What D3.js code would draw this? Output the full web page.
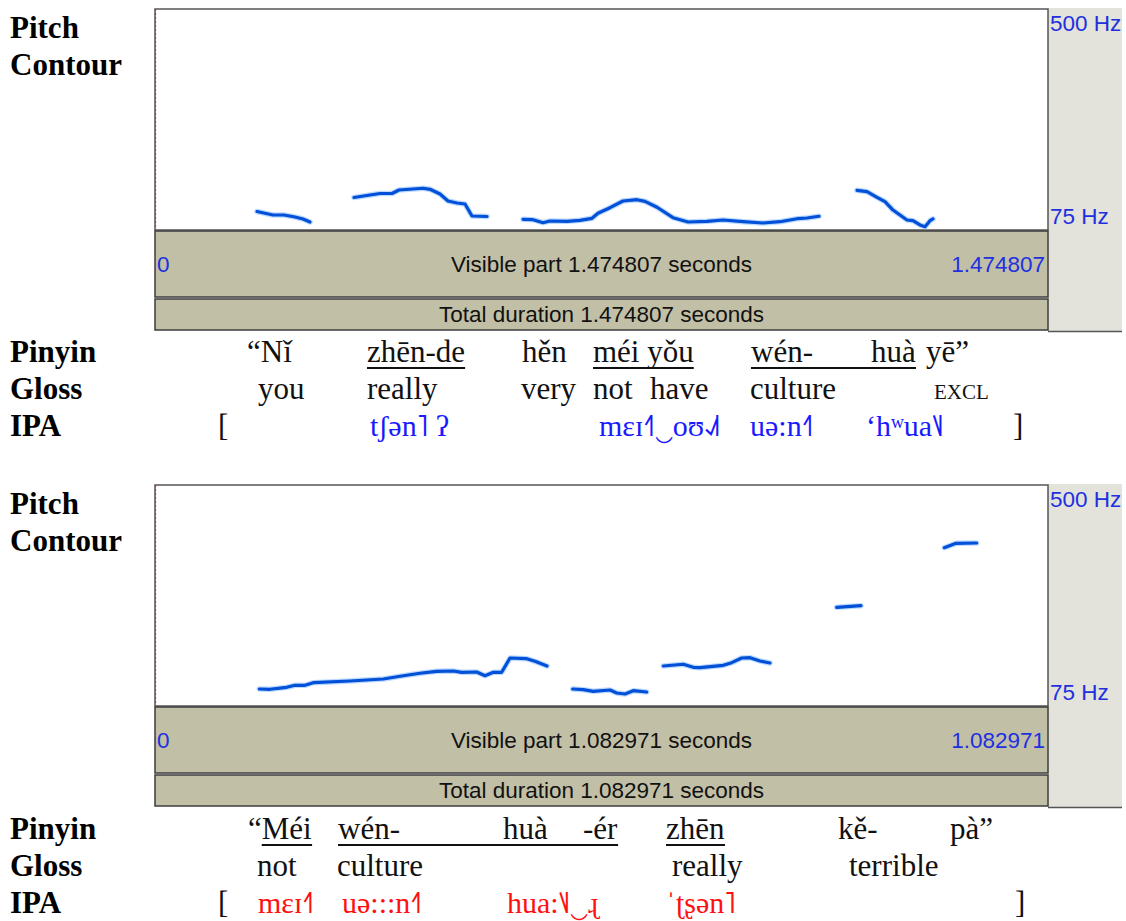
<!DOCTYPE html>
<html><head><meta charset="utf-8">
<script src="https://cdn.jsdelivr.net/npm/d3@7"></script>
<style>
html,body{margin:0;padding:0;background:#fff;}
svg{display:block;}
</style></head>
<body>
<svg id="c" width="1126" height="921"></svg>
<script>
// ---------- DATA ----------
const durations = [1.474807, 1.082971];
const hzRange = [75, 500];
const hzTicks = [75, 500];

// pitch contour segments, [time (s), F0 (Hz)]
const top1 = [[0.1685,110.7],[0.1949,104.0],[0.2130,104.0],[0.2312,100.1],[0.2444,96.3],[0.2560,90.5]];
const top2 = [[0.3286,137.8],[0.3551,142.6],[0.3716,145.5],[0.3914,145.5],[0.4030,152.3],[0.4261,154.2],[0.4426,155.6],[0.4542,153.6],[0.4707,144.5],[0.4839,131.0],[0.4988,127.2],[0.5120,125.2],[0.5235,102.0],[0.5483,101.1]];
const top3 = [[0.6078,95.7],[0.6243,94.9],[0.6408,89.1],[0.6523,92.4],[0.6804,91.8],[0.7019,93.7],[0.7217,97.6],[0.7316,107.3],[0.7514,118.1],[0.7729,131.0],[0.7960,133.5],[0.8092,130.4],[0.8291,118.9],[0.8555,98.8],[0.8803,90.5],[0.9116,91.8],[0.9381,94.3],[0.9711,91.0],[1.0041,88.5],[1.0322,91.0],[1.0603,96.8],[1.0768,98.2],[1.0966,101.5]];
const top4 = [[1.1594,151.7],[1.1759,149.0],[1.1924,138.2],[1.2056,129.7],[1.2188,113.6],[1.2419,94.3],[1.2518,93.0],[1.2634,84.7],[1.2717,81.4],[1.2799,93.0],[1.2849,96.3]];

const bot1 = [[0.1265,107.8],[0.1395,107.3],[0.1597,111.1],[0.1698,115.0],[0.1819,115.0],[0.1920,120.0],[0.2365,123.3],[0.2769,127.2],[0.3011,133.5],[0.3214,138.2],[0.3416,142.0],[0.3618,142.6],[0.3719,140.1],[0.3901,140.7],[0.4002,133.5],[0.4103,140.1],[0.4204,140.1],[0.4305,167.7],[0.4508,166.4],[0.4608,161.3],[0.4754,152.3]];
const bot2 = [[0.5065,107.8],[0.5194,106.5],[0.5315,103.4],[0.5518,105.9],[0.5599,100.1],[0.5700,98.2],[0.5800,104.6],[0.5963,102.0]];
const bot3 = [[0.6164,152.3],[0.6407,155.6],[0.6528,149.8],[0.6609,149.0],[0.6892,153.6],[0.6994,158.7],[0.7115,167.7],[0.7216,168.4],[0.7337,161.9],[0.7458,158.1]];
const bot4 = [[0.8267,265.7],[0.8562,268.8]];
const bot5 = [[0.9572,380.8],[0.9714,389.3],[0.9965,389.9]];

const topPinyin = ["“Nǐ","zhēn-de","hěn","méi yǒu","wén-","huà","yē”"];
const topGloss  = ["you","really","very","not","have","culture","EXCL"];
const topIPA    = ["[","tʃən˥ ʔ","mɛɪ˧˥‿oʊ˨˩˦","uə:n˧˥","ʻhʷua˥˩","]"];
const botPinyin = ["“Méi","wén-","huà","-ér","zhēn","kě-","pà”"];
const botGloss  = ["not","culture","really","terrible"];
const botIPA    = ["[","mɛɪ˧˥","uə:::n˧˥","hua:˥˩‿ɻ","ˈʈʂən˥","]"];
const rowLabels = ["Pinyin","Gloss","IPA"];

// ---------- LAYOUT ----------
const svg = d3.select("#c");
const PX0 = 155, PX1 = 1048;
const praatFont = "'Liberation Sans', Arial, sans-serif";
const serif = "'Liberation Serif', 'Times New Roman', 'DejaVu Serif', serif";
const blue = "#2030e0";

const panels = [
  {off:0, dur:durations[0], segs:[top1,top2,top3,top4]},
  {off:476, dur:durations[1], segs:[bot1,bot2,bot3,bot4,bot5]}
];

panels.forEach(p => {
  const g = svg.append("g").attr("transform", `translate(0,${p.off})`);
  const x = d3.scaleLinear().domain([0, p.dur]).range([PX0, PX1]);
  const y = d3.scaleLinear().domain(hzRange).range([230, 10]);

  g.append("rect").attr("x",PX1).attr("y",8).attr("width",74).attr("height",324).attr("fill","#e3e2db");
  g.append("line").attr("x1",PX1).attr("x2",1122).attr("y1",331.5).attr("y2",331.5).attr("stroke","#555").attr("stroke-width",1.5);
  g.append("rect").attr("x",PX0).attr("y",9).attr("width",PX1-PX0).attr("height",221)
    .attr("fill","#fff").attr("stroke","#555").attr("stroke-width",1.5);
  g.append("line").attr("x1",PX0+0.5).attr("x2",PX0+0.5).attr("y1",9).attr("y2",230)
    .attr("stroke","#e02020").attr("stroke-width",1.2).attr("stroke-dasharray","2,2");

  g.append("rect").attr("x",PX0).attr("y",231).attr("width",PX1-PX0).attr("height",66)
    .attr("fill","#c1bfa6").attr("stroke","#3c3c3c").attr("stroke-width",1.5);
  g.append("rect").attr("x",PX0).attr("y",299).attr("width",PX1-PX0).attr("height",31)
    .attr("fill","#c1bfa6").attr("stroke","#3c3c3c").attr("stroke-width",1.5);

  const durStr = p.dur.toFixed(6);
  g.append("text").attr("x",(PX0+PX1)/2).attr("y",272).attr("text-anchor","middle")
    .attr("font-family",praatFont).attr("font-size",22.5).attr("fill","#111")
    .text(`Visible part ${durStr} seconds`);
  g.append("text").attr("x",(PX0+PX1)/2).attr("y",322).attr("text-anchor","middle")
    .attr("font-family",praatFont).attr("font-size",22.5).attr("fill","#111")
    .text(`Total duration ${durStr} seconds`);
  g.append("text").attr("x",157).attr("y",272)
    .attr("font-family",praatFont).attr("font-size",22.5).attr("fill",blue).text(x.domain()[0]);
  g.append("text").attr("x",1045).attr("y",272).attr("text-anchor","end")
    .attr("font-family",praatFont).attr("font-size",22.5).attr("fill",blue).text(durStr);

  const ax = g.append("g").attr("transform",`translate(${PX1},0)`)
    .call(d3.axisRight(y).tickValues(hzTicks).tickSize(0).tickPadding(2).tickFormat(d => d + " Hz"));
  ax.select(".domain").remove();
  ax.selectAll("text").attr("font-family",praatFont).attr("font-size",22.5).attr("fill",blue)
    .attr("dy", d => d === 500 ? 20 : -7);

  const line = d3.line().x(d => x(d[0])).y(d => y(d[1]));
  g.selectAll("path.pitch").data(p.segs).join("path").attr("class","pitch")
    .attr("d", line).attr("fill","none").attr("stroke","#8fc0ff").attr("stroke-width",5.5)
    .attr("stroke-linejoin","round").attr("stroke-linecap","round").attr("opacity",0.6);
  g.selectAll("path.pitch2").data(p.segs).join("path").attr("class","pitch2")
    .attr("d", line).attr("fill","none").attr("stroke","#0050d8").attr("stroke-width",3.2)
    .attr("stroke-linejoin","round").attr("stroke-linecap","round");

  g.append("text").attr("x",10).attr("y",38).attr("font-family",serif).attr("font-weight","bold")
    .attr("font-size",31).text("Pitch");
  g.append("text").attr("x",10).attr("y",75).attr("font-family",serif).attr("font-weight","bold")
    .attr("font-size",31).text("Contour");
});

const rows = [
  {off:0, pinyin:topPinyin, px:[247,367,522,593,751,871,926], ul:[[1,1],[3,3],[4,5]],
   gloss:topGloss, gx:[258,367,521,593,650,750,934],
   ipa:topIPA, ix:[218,370,599,750,866,1013], ipaColor:"#1a1aff"},
  {off:477, pinyin:botPinyin, px:[248,338,503,583,666,838,950], ul:[[0,0],[1,3],[4,4]],
   gloss:botGloss, gx:[257,337,672,849],
   ipa:botIPA, ix:[218,258,342,507,666,1015], ipaColor:"#ff1010"}
];
const baseY = [362, 399, 436];

rows.forEach(r => {
  const g = svg.append("g").attr("transform",`translate(0,${r.off})`);
  rowLabels.forEach((l,i) => {
    g.append("text").attr("x",10).attr("y",baseY[i]).attr("font-family",serif)
      .attr("font-weight","bold").attr("font-size",31).text(l);
  });
  const pt = g.selectAll("text.py").data(r.pinyin).join("text").attr("class","py")
    .attr("x",(d,i)=>r.px[i]).attr("y",baseY[0]).attr("font-family",serif).attr("font-size",31)
    .attr("fill","#111").text(d=>d);
  const nodes = pt.nodes();
  r.ul.forEach(([a,b]) => {
    let xa = r.px[a];
    if (r.pinyin[a].startsWith("“")) xa += nodes[a].getSubStringLength(0,1);
    const bb = nodes[b].getBBox();
    const xb = bb.x + bb.width;
    g.append("line").attr("x1",xa).attr("x2",xb).attr("y1",baseY[0]+6).attr("y2",baseY[0]+6)
      .attr("stroke","#111").attr("stroke-width",1.8);
  });
  g.selectAll("text.gl").data(r.gloss).join("text").attr("class","gl")
    .attr("x",(d,i)=>r.gx[i]).attr("y",baseY[1]).attr("font-family",serif)
    .attr("font-size",d => d==="EXCL" ? 21 : 31).attr("fill","#111").text(d=>d);
  g.selectAll("text.ip").data(r.ipa).join("text").attr("class","ip")
    .attr("x",(d,i)=>r.ix[i]).attr("y",baseY[2]).attr("font-family",serif)
    .attr("font-size",d => (d==="["||d==="]") ? 31 : 30)
    .attr("fill",d => (d==="["||d==="]") ? "#111" : r.ipaColor).text(d=>d);
});
</script>
</body></html>
